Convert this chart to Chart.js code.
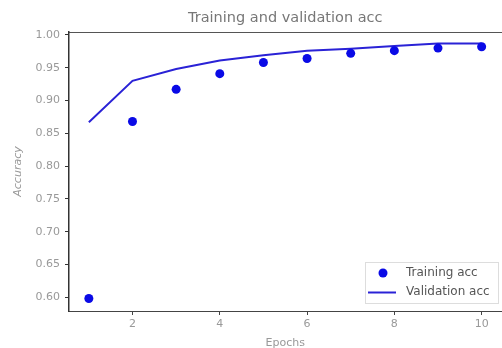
<!DOCTYPE html>
<html><head><meta charset="utf-8">
<script src="https://cdn.jsdelivr.net/npm/chart.js@4.4.1/dist/chart.umd.min.js"></script>
<style>
html,body{margin:0;padding:0;background:#fff;}
#wrap{width:502px;height:348px;overflow:hidden;position:relative;}
#c{position:absolute;left:0;top:0;}
</style></head>
<body>
<div id="wrap"><canvas id="c" width="506" height="348"></canvas></div>
<script>
const epochs = [1,2,3,4,5,6,7,8,9,10];
const trainingAcc = [0.598,0.868,0.917,0.941,0.958,0.964,0.972,0.976,0.980,0.982];
const validationAcc = [0.867,0.930,0.948,0.961,0.969,0.976,0.979,0.983,0.987,0.987];
const seriesNames = ['Training acc','Validation acc'];
const chartTitle = 'Training and validation acc';
const xTitle = 'Epochs';
const yTitle = 'Accuracy';

const FONT = "'DejaVu Sans', sans-serif";

const legendPlugin = {
  id: 'innerLegend',
  afterDraw(chart) {
    const ctx = chart.ctx;
    const x0 = 365, y0 = 262, w = 134, h = 42;
    ctx.save();
    ctx.fillStyle = 'rgba(255,255,255,0.85)';
    ctx.strokeStyle = '#dddddd';
    ctx.lineWidth = 1;
    ctx.fillRect(x0, y0, w, h);
    ctx.strokeRect(x0 + 0.5, y0 + 0.5, w - 1, h - 1);
    const ds = chart.data.datasets;
    ctx.fillStyle = ds[0].backgroundColor;
    ctx.beginPath();
    ctx.arc(383, 273, 4.5, 0, Math.PI * 2);
    ctx.fill();
    ctx.strokeStyle = ds[1].borderColor;
    ctx.lineWidth = 2;
    ctx.beginPath();
    ctx.moveTo(368, 292.5);
    ctx.lineTo(396, 292.5);
    ctx.stroke();
    ctx.fillStyle = '#555555';
    ctx.font = "12px " + FONT;
    ctx.textBaseline = 'middle';
    ctx.fillText(ds[0].label, 406, 273);
    ctx.fillText(ds[1].label, 406, 292);
    ctx.restore();
  }
};

new Chart(document.getElementById('c'), {
  type: 'scatter',
  data: {
    datasets: [
      {
        label: seriesNames[0],
        data: epochs.map((e, i) => ({x: e, y: trainingAcc[i]})),
        showLine: false,
        pointRadius: 4.5,
        pointHoverRadius: 4.5,
        backgroundColor: '#0a0ae6',
        borderColor: '#0a0ae6',
        borderWidth: 0
      },
      {
        label: seriesNames[1],
        data: epochs.map((e, i) => ({x: e, y: validationAcc[i]})),
        showLine: true,
        pointRadius: 0,
        borderColor: '#2a22d6',
        backgroundColor: '#2a22d6',
        borderWidth: 2,
        tension: 0
      }
    ]
  },
  options: {
    responsive: false,
    animation: false,
    devicePixelRatio: 1,
    layout: {padding: 0},
    plugins: {
      legend: {display: false},
      title: {display: false},
      tooltip: {enabled: false}
    },
    scales: {
      x: {
        type: 'linear',
        position: 'bottom',
        min: 0.545,
        max: 10.455,
        afterFit(s) { s.height = 37; },
        ticks: {stepSize: 2, includeBounds: false, color: '#999999', font: {family: FONT, size: 11}, padding: 3,
          callback: v => String(v)},
        grid: {drawOnChartArea: false, drawTicks: true, tickLength: 4, color: '#444444'},
        border: {display: true, color: '#444444', width: 1, dash: [1, 2]},
        title: {display: true, text: xTitle, color: '#999999', font: {family: FONT, size: 11, lineHeight: 0.9}, padding: {top: 5, bottom: 0}}
      },
      top: {
        type: 'linear',
        position: 'top',
        min: 0.545,
        max: 10.455,
        afterFit(s) { s.height = 32; },
        ticks: {display: false},
        grid: {drawOnChartArea: false, drawTicks: false},
        border: {display: true, color: '#555555', width: 1},
        title: {display: true, text: chartTitle, color: '#777777', font: {family: FONT, size: 14.5}, padding: {top: 10, bottom: 0}}
      },
      y: {
        type: 'linear',
        position: 'left',
        min: 0.579,
        max: 1.0045,
        afterFit(s) { s.width = 69; },
        ticks: {stepSize: 0.05, includeBounds: false, color: '#999999', font: {family: FONT, size: 11}, padding: 5,
          callback: v => Number(v).toFixed(2)},
        grid: {drawOnChartArea: false, drawTicks: true, tickLength: 4, color: '#333333'},
        border: {display: true, color: '#333333', width: 1.5},
        title: {display: true, text: yTitle, color: '#999999', font: {family: FONT, size: 11, style: 'italic'}, padding: {top: 12, bottom: 0}}
      }
    }
  },
  plugins: [legendPlugin]
});
</script>
</body></html>
